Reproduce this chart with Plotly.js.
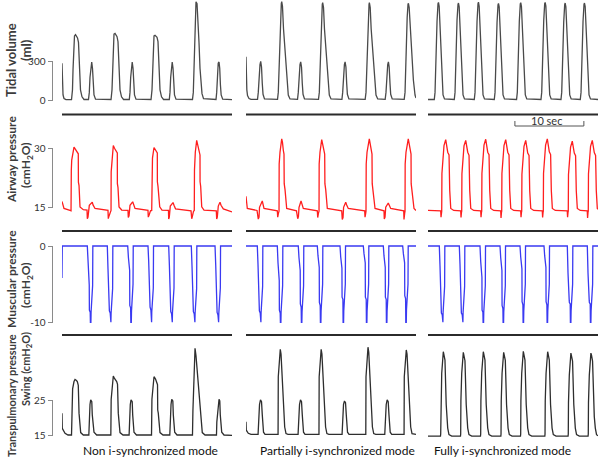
<!DOCTYPE html>
<html>
<head>
<meta charset="utf-8">
<script src="https://cdn.plot.ly/plotly-3.0.1.min.js"></script>
<style>
  html, body { margin: 0; padding: 0; background: #fff; }
  #chart { width: 600px; height: 462px; }
</style>
</head>
<body>
<div id="chart"></div>
<script>
// modes (columns) and signals (rows)
const modes = ['Non i-synchronized mode', 'Partially i-synchronized mode', 'Fully i-synchronized mode'];
const rowTitles = ['Tidal volume', 'Airway pressure', 'Muscular pressure', 'Transpulmonary pressure'];
const rowUnits = ['(ml)', '(cmH<sub>2</sub>O)', '(cmH<sub>2</sub>O)', 'Swing (cmH<sub>2</sub>O)'];
const rowTicks = [[0, 300], [15, 30], [-10, 0], [15, 25]];
const rowTickText = [['0', '300'], ['15', '30'], ['-10', '0'], ['15', '25']];
const scaleBarSec = [12.6, 22.6];

// ---- tidal volume (ml) vs time (s)
const tidalNonT = [0.00,0.04,0.15,0.29,0.58,
  1.38,1.52,1.60,1.67,1.81,1.96,2.25,2.39,2.47,2.54,2.68,2.90,3.19,
  3.84,3.96,4.06,4.21,4.31,4.42,4.52,4.64,4.86,
  7.11,7.25,7.32,7.40,7.54,7.69,7.98,8.12,8.19,8.27,8.41,8.63,8.92,
  9.76,9.86,9.96,10.08,10.18,10.30,10.40,10.51,10.73,
  12.91,13.05,13.12,13.20,13.34,13.49,13.78,13.92,13.99,14.07,14.21,14.43,14.72,
  15.56,15.66,15.76,15.88,15.98,16.10,16.20,16.31,16.53,
  18.92,19.04,19.14,19.24,19.36,19.43,19.58,19.72,19.87,20.01,20.16,20.30,20.52,
  22.33,22.43,22.53,22.65,22.77,22.87,22.97,23.08,23.30,
  24.65];
const tidalNonV = [290,120,40,12,3,
  3,80,240,400,505,515,490,455,320,200,80,25,4,
  4,60,180,290,300,250,120,40,6,
  4,80,240,420,520,525,500,460,320,200,80,25,4,
  4,60,180,290,300,250,120,40,6,
  4,80,240,400,505,510,495,460,320,200,80,25,4,
  4,60,180,290,300,250,120,40,6,
  4,60,250,500,700,775,760,650,450,250,120,50,10,
  4,60,180,290,300,250,120,40,6,
  3];

const tidalPartT = [0.00,0.04,0.12,0.22,0.44,0.73,
  1.67,1.78,1.89,2.03,2.13,2.25,2.36,2.47,2.68,
  4.57,4.68,4.74,4.86,5.00,5.12,5.18,5.29,5.44,5.66,5.90,6.13,6.38,
  7.47,7.58,7.69,7.83,7.93,8.05,8.16,8.27,8.48,
  10.51,10.63,10.69,10.80,10.95,11.06,11.12,11.24,11.38,11.60,11.85,12.08,12.33,
  13.91,14.02,14.12,14.27,14.37,14.49,14.60,14.70,14.92,
  17.28,17.40,17.46,17.57,17.72,17.84,17.89,18.01,18.15,18.37,18.62,18.85,19.10,
  20.18,20.30,20.40,20.55,20.65,20.76,20.88,20.98,21.20,
  22.94,23.06,23.11,23.23,23.37,23.49,23.55,23.66,23.81,24.03,24.27,24.51,24.65];
const tidalPartV = [342,200,80,35,12,5,
  5,60,180,280,305,260,130,45,8,
  5,60,180,400,650,760,776,740,560,395,158,39,8,
  5,60,180,280,300,260,130,45,8,
  5,60,180,400,650,755,768,730,560,395,158,39,8,
  5,60,180,280,300,260,130,45,8,
  5,60,180,400,650,755,768,730,560,395,158,39,8,
  5,60,180,280,300,260,130,45,8,
  5,60,180,400,650,755,763,730,560,395,158,39,15];

const tidalFullT = [0.00,
  0.91,1.02,1.09,1.16,1.31,1.45,1.52,1.62,1.74,1.89,2.03,2.18,2.39,
  3.81,3.92,3.99,4.06,4.21,4.35,4.42,4.52,4.64,4.79,4.93,5.08,5.29,
  6.71,6.82,6.89,6.96,7.11,7.25,7.32,7.42,7.54,7.69,7.83,7.98,8.19,
  9.61,9.72,9.79,9.86,10.01,10.15,10.22,10.32,10.44,10.59,10.73,10.88,11.09,
  12.84,12.95,13.02,13.09,13.24,13.38,13.45,13.55,13.67,13.82,13.96,14.11,14.32,
  16.38,16.49,16.56,16.63,16.78,16.92,16.99,17.09,17.21,17.36,17.50,17.65,17.86,
  19.28,19.39,19.46,19.53,19.68,19.82,19.89,19.99,20.11,20.26,20.40,20.55,20.76,
  22.08,22.19,22.26,22.33,22.48,22.62,22.69,22.79,22.91,23.06,23.20,23.35,23.56,
  24.65];
const tidalFullV = [4,
  4,60,250,420,620,760,770,740,560,330,130,40,8,
  4,60,250,430,630,755,765,735,550,320,130,40,8,
  4,60,250,420,620,760,772,740,560,330,130,40,8,
  4,60,240,410,610,750,762,735,555,325,125,40,8,
  4,60,250,420,620,758,768,738,560,330,130,40,8,
  4,60,250,425,625,760,770,742,560,330,130,40,8,
  4,60,245,420,615,752,765,735,555,328,128,40,8,
  4,60,250,420,620,755,765,738,560,330,130,40,8,
  4];

// ---- airway pressure (cmH2O)
const airwayNonT = [0.00,0.29,1.16,
  1.31,1.35,1.41,1.74,1.89,2.22,2.36,2.38,2.47,2.61,3.09,
  3.63,3.67,3.77,3.96,4.39,4.50,4.79,6.67,
  6.71,6.82,7.03,7.11,7.13,7.25,7.44,7.61,7.93,8.02,8.03,8.12,8.27,8.66,
  9.57,9.61,9.72,9.86,10.25,10.37,10.59,12.47,
  12.51,12.62,12.83,13.01,13.04,13.12,13.34,13.49,13.78,13.82,13.83,13.92,14.17,14.50,
  15.44,15.47,15.56,15.70,16.10,16.24,16.46,18.71,
  18.81,18.89,19.07,19.18,19.21,19.33,19.53,19.72,19.91,20.01,20.02,20.11,20.26,20.59,
  22.37,22.43,22.52,22.66,22.91,23.06,23.39,24.65];
const airwayNonV = [16.5,14.7,14.2,
  14.1,24.4,27,30.3,29.9,29,28.6,21.4,20.5,15.1,14.4,
  14.3,12.1,12.5,15.5,16.3,15.6,14.7,14.2,
  12.1,12.8,14,14.2,24,28,30.7,30,29.2,28.8,21,20,15.1,14.3,
  14.2,12.4,12.8,15.5,16.4,15.6,14.7,14.2,
  12.5,13,14.1,14.2,24,27.5,30.2,29.8,29.2,28.8,21.5,20.3,15.1,14.3,
  14.2,12,12.5,15.3,16.2,15.5,14.6,14.1,
  12.1,12.6,14,14.2,24.5,29,32,30.5,28.7,28.3,21.5,20.3,15.1,14.3,
  14.1,12,12.5,15.3,16.3,15.5,14.6,13.8];

const airwayPartT = [0.00,0.07,0.19,1.60,
  1.78,1.89,1.96,2.36,2.47,2.61,4.54,
  4.60,4.71,4.79,4.81,4.93,5.18,5.29,5.41,5.51,5.54,5.66,5.90,7.32,
  7.50,7.60,7.69,7.98,8.12,8.31,10.34,
  10.40,10.51,10.59,10.61,10.73,10.98,11.09,11.31,11.41,11.44,11.56,11.79,13.88,
  13.96,14.07,14.15,14.46,14.60,14.83,17.21,
  17.26,17.36,17.40,17.43,17.55,17.88,17.98,18.13,18.27,18.30,18.42,18.71,20.01,
  20.05,20.16,20.26,20.63,20.78,20.98,22.87,
  22.91,23.01,23.06,23.08,23.20,23.53,23.64,23.78,23.93,23.95,24.07,24.36,24.65];
const airwayPartV = [17.8,15.5,14.7,14.2,
  12,12.5,15,16.6,15.8,14.7,14.1,
  12.5,13.5,14,26,29,32.4,31.5,29.5,28.5,21,19.5,14.7,14.1,
  12.1,12.6,15,16.6,15.8,14.7,14.1,
  12.4,13.5,14,26,29,32.2,31.3,29.5,28.5,21,19.5,14.7,14.1,
  11.9,12.4,15,16.3,15.6,14.7,14.1,
  12.5,13.5,14,26,29,32.4,31.5,29.5,28.5,21,19.5,14.7,14.1,
  12,12.5,15,16.1,15.4,14.7,14.1,
  11.9,13.5,14,26,29,32.4,31.5,29.5,28.5,21,19.5,14.7,14.2];

const airwayFullT = [0.00,
  1.84,1.89,1.96,1.99,2.02,2.21,2.32,2.57,2.72,2.86,3.05,3.06,3.15,3.30,3.73,
  4.74,4.79,4.86,4.89,4.92,5.11,5.22,5.47,5.62,5.76,5.95,5.96,6.05,6.20,6.63,
  7.64,7.69,7.76,7.79,7.82,8.01,8.12,8.37,8.52,8.66,8.85,8.86,8.95,9.10,9.53,
  10.54,10.59,10.66,10.69,10.72,10.91,11.02,11.27,11.42,11.56,11.75,11.76,11.85,12.00,12.43,
  13.44,13.49,13.56,13.59,13.62,13.81,13.92,14.17,14.32,14.46,14.65,14.66,14.75,14.90,15.33,
  16.57,16.62,16.69,16.72,16.75,16.94,17.05,17.30,17.45,17.59,17.78,17.79,17.88,18.03,18.46,
  20.19,20.24,20.31,20.34,20.37,20.56,20.67,20.92,21.07,21.21,21.40,21.41,21.50,21.65,22.08,
  23.09,23.14,23.21,23.24,23.27,23.46,23.57,23.82,23.97,24.11,24.30,24.31,24.40,24.55,
  24.65];
const airwayFullV = [14.2,
  14.1,12.5,13.8,14,23.6,28,30.7,32.2,30.5,29,28.3,20.2,19.3,14.7,14.2,
  14.1,12.4,13.8,14,23.5,28,30.6,32.0,30.3,29,28.2,20.2,19.3,14.7,14.2,
  14.1,12.5,13.8,14,23.6,28,30.8,32.3,30.5,29,28.4,20.3,19.3,14.7,14.2,
  14.1,12.3,13.8,14,23.6,28,30.7,32.2,30.5,29,28.3,20.2,19.3,14.7,14.2,
  14.1,12.5,13.8,14,23.4,27.8,30.5,32.0,30.3,28.8,28.2,20.1,19.2,14.7,14.2,
  14.1,12.4,13.8,14,23.6,28,30.8,32.4,30.6,29.1,28.4,20.3,19.3,14.7,14.2,
  14.1,12.5,13.8,14,23.3,27.6,30.3,31.8,30.2,28.8,28.1,20.1,19.2,14.7,14.2,
  14.1,12.3,13.8,14,23.5,27.8,30.5,32.0,30.4,28.9,28.2,20.2,19.3,14.7,
  14.5];

// ---- muscular pressure (cmH2O)
const muscleNonT = [0.00,0.04,
  3.67,3.77,3.84,3.95,3.97,4.09,4.12,4.19,4.22,4.44,4.47,
  6.57,6.67,6.74,6.85,6.87,6.99,7.02,7.09,7.12,7.34,7.37,
  9.53,9.63,9.70,9.81,9.83,9.95,9.98,10.05,10.08,10.30,10.33,
  12.47,12.57,12.64,12.75,12.77,12.89,12.92,12.99,13.02,13.24,13.27,
  15.47,15.57,15.64,15.75,15.77,15.89,15.92,15.99,16.02,16.24,16.27,
  18.75,18.85,18.92,19.03,19.05,19.17,19.20,19.27,19.30,19.52,19.55,
  22.19,22.29,22.36,22.47,22.49,22.61,22.64,22.71,22.74,22.96,22.99,
  24.65];
const muscleNonV = [-4.2,0,
  0,-2.4,-4.9,-5.1,-8.4,-8.7,-10,-10,-8.6,-5.2,0,
  0,-3,-5.8,-6,-8.5,-8.8,-10,-10,-8.8,-5.6,0,
  0,-1.5,-3,-3.2,-7.8,-8.1,-10,-10,-8.5,-5,0,
  0,-2,-4.2,-4.4,-8,-8.4,-10,-10,-8.6,-5.5,0,
  0,-2.5,-5.5,-5.7,-8.6,-8.9,-10,-10,-8.7,-5.5,0,
  0,-2.6,-5.6,-5.8,-8.6,-8.9,-10,-10,-8.8,-5.6,0,
  0,-2.5,-5.3,-5.5,-8.7,-9,-10,-10,-8.8,-5.5,0,
  0];

const musclePartT = [0.00,
  1.64,1.74,1.81,1.92,1.94,2.06,2.09,2.16,2.19,2.41,2.44,
  4.54,4.64,4.71,4.82,4.84,4.96,4.99,5.06,5.09,5.31,5.34,
  7.58,7.68,7.75,7.86,7.88,8.00,8.03,8.10,8.13,8.35,8.38,
  10.34,10.44,10.51,10.62,10.64,10.76,10.79,10.86,10.89,11.11,11.14,
  13.63,13.73,13.80,13.91,13.93,14.05,14.08,14.15,14.18,14.40,14.43,
  17.01,17.11,17.18,17.29,17.31,17.43,17.46,17.53,17.56,17.78,17.81,
  19.91,20.01,20.08,20.19,20.21,20.33,20.36,20.43,20.46,20.68,20.71,
  22.72,22.82,22.89,23.00,23.02,23.14,23.17,23.24,23.27,23.49,23.52,
  24.65];
const musclePartV = [0,
  0,-2.4,-4.7,-4.9,-8.5,-8.8,-10,-10,-8.7,-5.3,0,
  0,-2.2,-4.3,-4.5,-8.4,-8.8,-10,-10,-8.6,-5.2,0,
  0,-1.5,-3.0,-3.2,-7.6,-8.0,-10,-10,-8.6,-5.2,0,
  0,-1.3,-2.6,-2.8,-7.4,-7.8,-10,-10,-8.5,-5,0,
  0,-1.4,-2.7,-2.9,-6.7,-7,-10,-10,-8.5,-5,0,
  0,-1,-2,-2.2,-6.7,-7,-10,-10,-8.5,-5,0,
  0,-1.3,-2.6,-2.8,-6.7,-7,-10,-10,-8.5,-5,0,
  0,-1,-2,-2.2,-6.5,-6.9,-10,-10,-8.4,-5,0,
  0];

const muscleFullT = [0.00,
  1.64,1.74,1.81,1.92,1.94,2.06,2.09,2.16,2.19,2.41,2.44,
  4.54,4.64,4.71,4.82,4.84,4.96,4.99,5.06,5.09,5.31,5.34,
  7.54,7.64,7.71,7.82,7.84,7.96,7.99,8.06,8.09,8.31,8.34,
  10.44,10.54,10.61,10.72,10.74,10.86,10.89,10.96,10.99,11.21,11.24,
  13.34,13.44,13.51,13.62,13.64,13.76,13.79,13.86,13.89,14.11,14.14,
  16.82,16.92,16.99,17.10,17.12,17.24,17.27,17.34,17.37,17.59,17.62,
  20.20,20.30,20.37,20.48,20.50,20.62,20.65,20.72,20.75,20.97,21.00,
  23.10,23.20,23.27,23.38,23.40,23.52,23.55,23.62,23.65,23.87,23.90,
  24.65];
const muscleFullV = [0,
  0,-2.6,-5.2,-5.4,-8.8,-9,-10,-10,-8.7,-5.3,0,
  0,-2.4,-4.7,-4.9,-8.8,-9,-10,-10,-8.7,-5.3,0,
  0,-2,-3.9,-4.1,-8.4,-8.7,-10,-10,-8.6,-5.2,0,
  0,-1.5,-3,-3.2,-7.8,-8.2,-10,-10,-8.6,-5.2,0,
  0,-1.4,-2.8,-3,-7.3,-7.7,-10,-10,-8.5,-5,0,
  0,-1.3,-2.6,-2.8,-7.3,-7.7,-10,-10,-8.5,-5,0,
  0,-3.5,-7,-7.2,-7.4,-7.6,-10,-10,-8.5,-5,0,
  0,-3.5,-7,-7.2,-7.4,-7.6,-10,-10,-8.5,-5,0,
  0];

// ---- transpulmonary pressure swing (cmH2O)
const transNonT = [0.00,0.04,0.44,0.87,
  1.38,1.44,1.54,1.74,1.89,2.10,2.22,2.36,2.38,2.47,2.71,3.09,
  3.89,3.93,4.06,4.16,4.32,4.39,4.64,5.03,
  7.08,7.13,7.25,7.44,7.61,7.93,8.05,8.08,8.16,8.41,8.85,
  9.73,9.77,9.90,10.01,10.18,10.25,10.44,10.80,
  12.98,13.04,13.15,13.34,13.56,13.73,13.85,13.88,13.96,14.21,14.65,
  15.63,15.67,15.81,15.91,16.07,16.14,16.34,16.68,
  18.92,18.98,19.10,19.20,19.29,19.43,19.65,19.87,20.01,20.05,20.16,20.34,20.74,
  22.40,22.45,22.62,22.77,22.88,22.95,23.16,23.49,
  24.65];
const transNonV = [21.5,17.1,15.7,15.2,
  15.2,25.3,28.5,30.6,31.2,30.9,30.6,29.5,22.4,21.5,15.9,15.2,
  15.2,19,24,25.3,24.8,21,16,15.2,
  15.2,25.5,29,32.2,31.5,30.6,29.8,22.4,21.5,15.9,15.2,
  15.2,19,24,25.3,24.8,21,16,15.2,
  15.2,25.5,29,32,31.3,30.6,29.7,22.4,21.5,15.9,15.2,
  15.2,19,24,25.5,25,21,16,15.2,
  15.2,22,30,36,40.2,38,33,28,24.5,23.4,21,15.9,15.2,
  15.2,19,24,25.5,25,21,16,15.2,
  15.1];

const transPartT = [0.00,0.04,0.33,0.73,
  1.75,1.80,1.96,2.10,2.25,2.36,2.54,2.76,
  4.65,4.68,4.79,4.97,5.08,5.26,5.41,5.47,5.61,5.80,6.09,
  7.55,7.60,7.76,7.90,8.05,8.16,8.34,8.56,
  10.58,10.61,10.72,10.90,11.01,11.19,11.34,11.40,11.54,11.73,12.02,
  13.93,13.98,14.14,14.28,14.43,14.54,14.72,14.94,
  17.37,17.40,17.51,17.69,17.80,17.98,18.13,18.19,18.33,18.52,18.81,
  20.12,20.17,20.33,20.47,20.62,20.73,20.91,21.13,
  22.92,22.95,23.06,23.24,23.35,23.53,23.68,23.74,23.88,24.07,24.36,
  24.65];
const transPartV = [19,16.6,15.7,15.4,
  15.4,19,24,25.3,24.8,21,16,15.4,
  15.4,32,35,39.9,38.5,31.5,24,21.5,17.5,15.6,15.4,
  15.4,19,24,25.3,24.8,21,16,15.4,
  15.4,32,35,39.9,38.5,31.5,24,21.5,17.5,15.6,15.4,
  15.4,19,24,25,24.5,21,16,15.4,
  15.4,32,35.5,40.5,39,32,24,21.5,17.5,15.6,15.4,
  15.4,19,24,25.3,24.8,21,16,15.4,
  15.4,32,35,39.7,38.5,31.5,24,21.5,17.5,15.6,15.4,
  15.4];

const transFullT = [0.00,
  1.81,1.84,1.87,1.99,2.22,2.30,2.46,2.64,2.68,2.71,2.86,3.04,3.44,
  4.71,4.74,4.77,4.89,5.12,5.20,5.36,5.54,5.58,5.61,5.76,5.94,6.34,
  7.61,7.64,7.67,7.79,8.02,8.10,8.26,8.44,8.48,8.51,8.66,8.84,9.24,
  10.56,10.59,10.62,10.74,10.97,11.05,11.21,11.39,11.43,11.46,11.61,11.79,12.19,
  13.41,13.44,13.47,13.59,13.82,13.90,14.06,14.24,14.28,14.31,14.46,14.64,15.04,
  16.94,16.97,17.00,17.12,17.35,17.43,17.59,17.77,17.81,17.84,17.99,18.17,18.57,
  20.31,20.34,20.37,20.49,20.72,20.80,20.96,21.14,21.18,21.21,21.36,21.54,21.94,
  23.21,23.24,23.27,23.39,23.62,23.70,23.86,24.04,24.08,24.11,24.26,24.44,
  24.65];
const transFullV = [14.9,
  14.9,15.5,25,33,39.2,38.5,36.8,24,22.4,20.5,17.2,15.3,14.9,
  14.9,15.5,25,33,39.0,38.3,36.6,24,22.4,20.5,17.2,15.3,14.9,
  14.9,15.5,25,33.2,39.2,38.5,36.8,24,22.4,20.5,17.2,15.3,14.9,
  14.9,15.5,25,33,39.0,38.4,36.7,24,22.4,20.5,17.2,15.3,14.9,
  14.9,15.5,25,33,39.3,38.6,36.8,24,22.4,20.5,17.2,15.3,14.9,
  14.9,15.5,25,33,39.2,38.5,36.8,24,22.4,20.5,17.2,15.3,14.9,
  14.9,15.5,24.5,32.5,38.8,38.2,36.5,24,22.4,20.5,17.2,15.3,14.9,
  14.9,15.5,24.5,32.5,38.8,38.3,36.5,24,22.4,20.5,17.2,15.3,
  15.0];

const series = [
  [[tidalNonT, tidalNonV], [tidalPartT, tidalPartV], [tidalFullT, tidalFullV]],
  [[airwayNonT, airwayNonV], [airwayPartT, airwayPartV], [airwayFullT, airwayFullV]],
  [[muscleNonT, muscleNonV], [musclePartT, musclePartV], [muscleFullT, muscleFullV]],
  [[transNonT, transNonV], [transPartT, transPartV], [transFullT, transFullV]]
];

// ---- layout in pixels
const W = 600, H = 462;
const px = x => x / W;
const py = y => 1 - y / H;

const colPx = [[62, 232], [246, 416], [428, 598]];
const rowPx = [[0, 104], [134, 222], [240, 328], [342, 440]];
const rowRange = [[-31.6, 789], [11.26, 33.63], [-10.75, 0.79], [13.76, 42.0]];
const rowColor = ['#4a4a4a', '#ff1e1e', '#3a3af2', '#2e2e2e'];
const sepY = [114.5, 231, 335];
const axisX = 52.5;
const tMax = 24.65;
const font = 'Lato, "Open Sans", sans-serif';

const traces = [];
series.forEach((row, r) => {
  row.forEach((s, c) => {
    traces.push({
      type: 'scatter',
      mode: 'lines',
      x: s[0],
      y: s[1],
      xaxis: c === 0 ? 'x' : 'x' + (c + 1),
      yaxis: r === 0 ? 'y' : 'y' + (r + 1),
      line: { color: rowColor[r], width: 1.3 },
      hoverinfo: 'skip'
    });
  });
});

const layout = {
  width: W,
  height: H,
  margin: { l: 0, r: 0, t: 0, b: 0 },
  paper_bgcolor: '#fff',
  plot_bgcolor: 'rgba(0,0,0,0)',
  showlegend: false,
  font: { family: font, color: '#333' },
  shapes: [],
  annotations: []
};

colPx.forEach((cp, c) => {
  const key = c === 0 ? 'xaxis' : 'xaxis' + (c + 1);
  layout[key] = { domain: [px(cp[0]), px(cp[1])], range: [0, tMax], visible: false, anchor: 'y4', fixedrange: true };
});

rowPx.forEach((rp, r) => {
  const key = r === 0 ? 'yaxis' : 'yaxis' + (r + 1);
  const yref = r === 0 ? 'y' : 'y' + (r + 1);
  layout[key] = {
    domain: [py(rp[1]), py(rp[0])],
    range: rowRange[r],
    anchor: 'free',
    position: px(axisX),
    tickvals: rowTicks[r],
    ticktext: rowTickText[r],
    ticks: 'outside',
    ticklen: 5,
    tickwidth: 1,
    tickcolor: '#8a8a8a',
    showline: false,
    showgrid: false,
    zeroline: false,
    fixedrange: true,
    tickfont: { family: font, size: 10, color: '#333' }
  };
  // bracket-style axis line only between the two ticks
  layout.shapes.push({
    type: 'line', xref: 'paper', yref: yref,
    x0: px(axisX), x1: px(axisX), y0: rowTicks[r][0], y1: rowTicks[r][1],
    line: { color: '#8a8a8a', width: 1 }
  });
});

// separators under each row
sepY.forEach(y => {
  colPx.forEach(cp => {
    layout.shapes.push({
      type: 'line', xref: 'paper', yref: 'paper',
      x0: px(cp[0]), x1: px(cp[1]), y0: py(y), y1: py(y),
      line: { color: '#2b2b2b', width: 2 }
    });
  });
});

// 10 sec scale bar
layout.shapes.push({
  type: 'path', xref: 'x3', yref: 'paper',
  path: `M ${scaleBarSec[0]},${py(121)} L ${scaleBarSec[0]},${py(126)} L ${scaleBarSec[1]},${py(126)} L ${scaleBarSec[1]},${py(121)}`,
  line: { color: '#555', width: 1 }
});
layout.annotations.push({
  xref: 'x3', yref: 'paper', x: (scaleBarSec[0] + scaleBarSec[1]) / 2 - 0.4, y: py(121),
  text: '10 sec', showarrow: false, font: { family: font, size: 11, color: '#333' },
  xanchor: 'center', yanchor: 'middle'
});

// row titles (rotated, two lines)
const titleY = [60, 160, 279, 396];
const unitY = [50, 165, 285, 369];
const titleSize = [13, 12, 12, 11];
rowTitles.forEach((t, r) => {
  layout.annotations.push({
    xref: 'paper', yref: 'paper', x: px(11), y: py(titleY[r]),
    text: '<b>' + t + '</b>', textangle: -90, showarrow: false,
    xanchor: 'center', yanchor: 'middle',
    font: { family: font, size: titleSize[r], color: '#3c3c3c' }
  });
  layout.annotations.push({
    xref: 'paper', yref: 'paper', x: px(26), y: py(unitY[r]),
    text: '<b>' + rowUnits[r] + '</b>', textangle: -90, showarrow: false,
    xanchor: 'center', yanchor: 'middle',
    font: { family: font, size: titleSize[r], color: '#3c3c3c' }
  });
});

// mode labels
const modeX = [150, 337, 502];
modes.forEach((m, c) => {
  layout.annotations.push({
    xref: 'paper', yref: 'paper', x: px(modeX[c]), y: py(450),
    text: m, showarrow: false, xanchor: 'center', yanchor: 'middle',
    font: { family: font, size: 12, color: '#111' }
  });
});

Plotly.newPlot('chart', traces, layout, { staticPlot: true, displayModeBar: false });
</script>
</body>
</html>
